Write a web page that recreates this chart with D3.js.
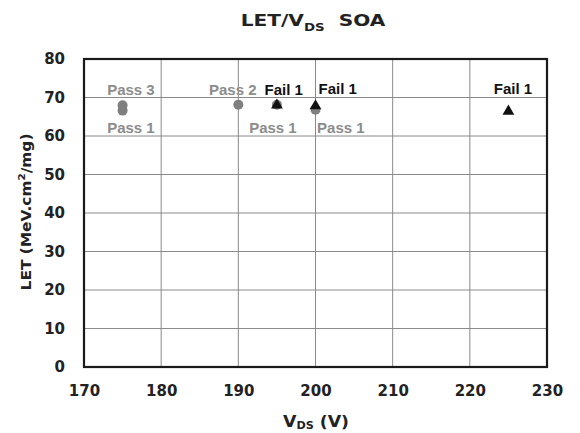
<!DOCTYPE html>
<html><head><meta charset="utf-8">
<script src="https://cdn.jsdelivr.net/npm/d3@7"></script>
<style>body{margin:0;background:#fff}</style></head>
<body><svg id="c" width="580" height="433"></svg>
<script>
// Data
const xTicks = [170, 180, 190, 200, 210, 220, 230];
const yTicks = [0, 10, 20, 30, 40, 50, 60, 70, 80];
const passV = [175, 175, 190, 195, 200];
const passLET = [66.6, 68.0, 68.1, 68.1, 66.8];
const failV = [195, 200, 225];
const failLET = [68.0, 67.8, 66.4];
const labelText = ["Pass 3", "Pass 1", "Pass 2", "Fail 1", "Pass 1", "Fail 1", "Pass 1", "Fail 1"];
const labelV =    [173.0, 173.0, 186.2, 193.4, 191.4, 200.4, 200.2, 223.1];
const labelLET =  [70.7, 60.9, 70.7, 70.7, 60.9, 70.9, 60.9, 70.9];
const labelKind = ["pass","pass","pass","fail","pass","fail","pass","fail"];

const svg = d3.select("#c");
const m = {l:84, r:547, t:59, b:367};
const x = d3.scaleLinear().domain([170,230]).range([m.l, m.r]);
const y = d3.scaleLinear().domain([0,80]).range([m.b, m.t]);
const tickFont = "'DejaVu Sans', Verdana, sans-serif";
const lblFont = "'Liberation Sans', Arial, sans-serif";

// grid
svg.append("g").selectAll("line.v").data(xTicks.slice(1,-1)).join("line")
  .attr("x1", d=>x(d)).attr("x2", d=>x(d)).attr("y1", m.t).attr("y2", m.b)
  .attr("stroke", "#8a8a8a").attr("stroke-width", 1);
svg.append("g").selectAll("line.h").data(yTicks.slice(1,-1)).join("line")
  .attr("y1", d=>y(d)).attr("y2", d=>y(d)).attr("x1", m.l).attr("x2", m.r)
  .attr("stroke", "#8a8a8a").attr("stroke-width", 1);

// axes (labels only)
const xa = svg.append("g").attr("transform", `translate(0,${m.b})`)
  .call(d3.axisBottom(x).tickValues(xTicks).tickSize(0).tickPadding(18));
xa.select(".domain").remove();
xa.selectAll("text").attr("font-family", tickFont).attr("font-weight", "bold")
  .attr("font-size", 15).attr("fill", "#222");
const ya = svg.append("g").attr("transform", `translate(${m.l},0)`)
  .call(d3.axisLeft(y).tickValues(yTicks).tickSize(0).tickPadding(19));
ya.select(".domain").remove();
ya.selectAll("text").attr("font-family", tickFont).attr("font-weight", "bold")
  .attr("font-size", 15).attr("fill", "#222");

// frame
svg.append("rect").attr("x", m.l).attr("y", m.t).attr("width", m.r-m.l).attr("height", m.b-m.t)
  .attr("fill", "none").attr("stroke", "#1a1a1a").attr("stroke-width", 2.2);

// pass points
svg.append("g").selectAll("circle").data(passV).join("circle")
  .attr("cx", (d,i)=>x(d)).attr("cy", (d,i)=>y(passLET[i])).attr("r", 5)
  .attr("fill", "#7f7f7f");
// fail points
const tri = d3.symbol().type(d3.symbolTriangle).size(60);
svg.append("g").selectAll("path").data(failV).join("path")
  .attr("d", tri).attr("transform", (d,i)=>`translate(${x(d)},${y(failLET[i])})`)
  .attr("fill", "#111");

// labels
svg.append("g").selectAll("text").data(labelText).join("text")
  .attr("x", (d,i)=>x(labelV[i])).attr("y", (d,i)=>y(labelLET[i]))
  .attr("font-family", lblFont).attr("font-weight", "bold").attr("font-size", 15)
  .attr("fill", (d,i)=>labelKind[i]==="pass" ? "#8c8c8c" : "#111")
  .text(d=>d);

// title
const t = svg.append("text").attr("transform", "translate(313,26) scale(1.22,1)").attr("text-anchor", "middle")
  .attr("font-family", tickFont).attr("font-weight", "bold").attr("font-size", 16.5).attr("fill", "#222")
  .attr("xml:space", "preserve");
t.append("tspan").text("LET/V");
t.append("tspan").attr("font-size", 11).attr("dy", 5).text("DS");
t.append("tspan").attr("dy", -5).text("\u00a0 SOA");

// x label
const xl = svg.append("text").attr("transform", "translate(316,427) scale(1.12,1)").attr("text-anchor", "middle")
  .attr("font-family", tickFont).attr("font-weight", "bold").attr("font-size", 15.5).attr("fill", "#222");
xl.append("tspan").text("V");
xl.append("tspan").attr("font-size", 10).attr("dy", 2).text("DS");
xl.append("tspan").attr("dy", -2).text(" (V)");

// y label
const yl = svg.append("text").attr("transform", "translate(31,212) rotate(-90) scale(1.1,1)").attr("text-anchor", "middle")
  .attr("font-family", tickFont).attr("font-weight", "bold").attr("font-size", 14).attr("fill", "#222");
yl.append("tspan").text("LET (MeV.cm");
yl.append("tspan").attr("font-size", 9.5).attr("dy", -6).text("2");
yl.append("tspan").attr("dy", 6).text("/mg)");
</script></body></html>
